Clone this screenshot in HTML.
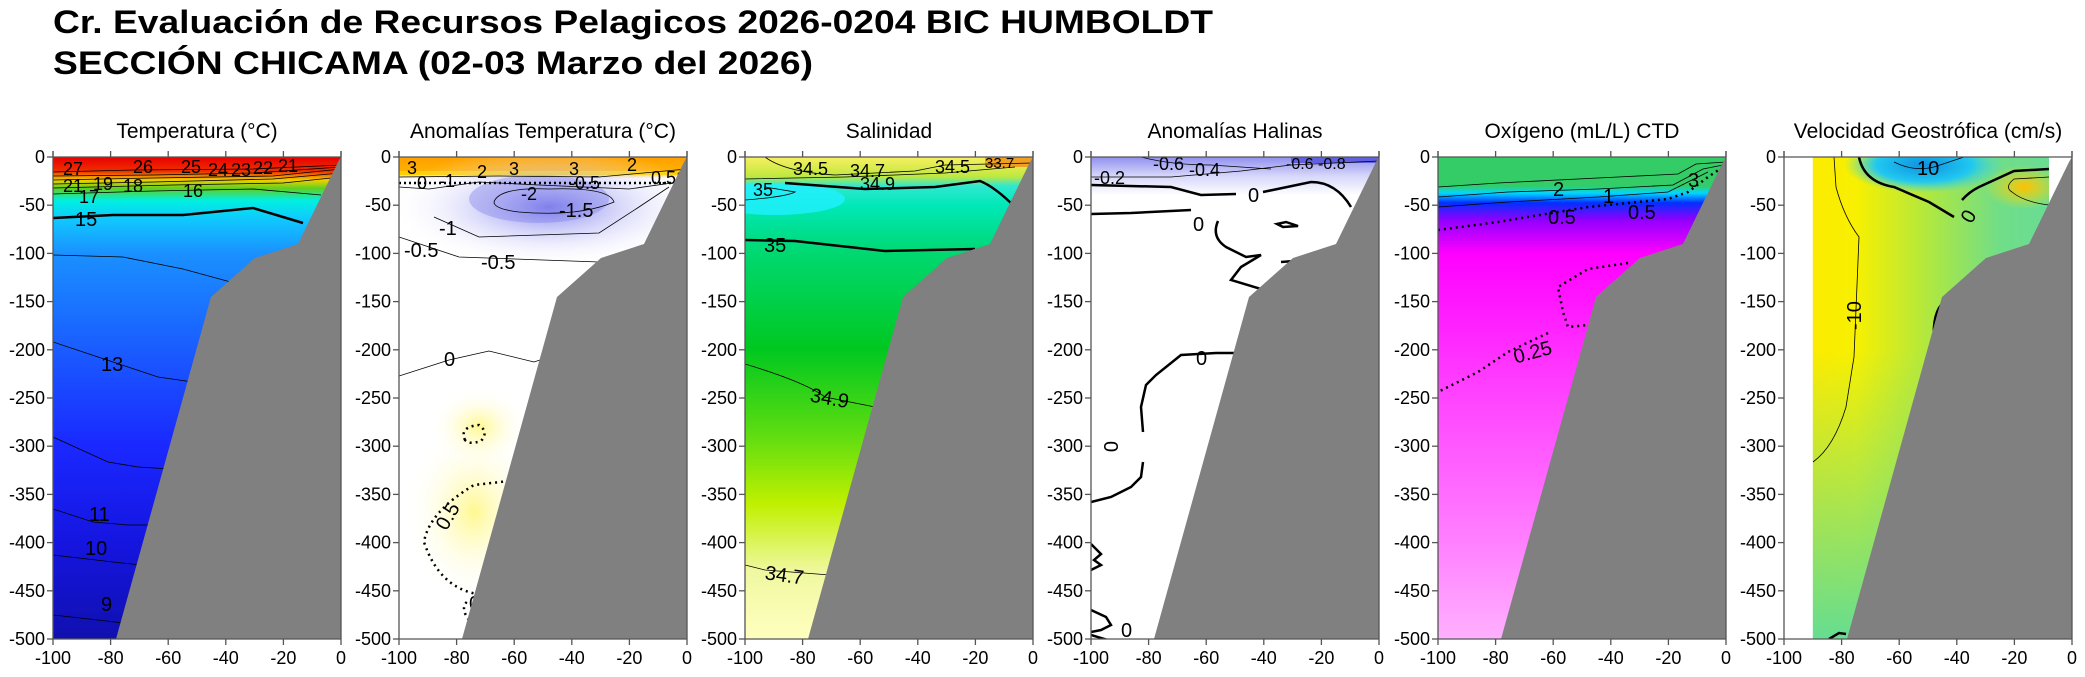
<!DOCTYPE html>
<html><head><meta charset="utf-8">
<style>
html,body{margin:0;padding:0;background:#fff;}
svg{display:block;}
text{font-family:"Liberation Sans",sans-serif;}
</style></head>
<body>
<svg id="s" width="2085" height="677" viewBox="0 0 2085 677" xmlns="http://www.w3.org/2000/svg">
<defs>
<linearGradient id="gT" x1="0" y1="0" x2="0" y2="1">
<stop offset="0" stop-color="#e80000"/><stop offset="0.03" stop-color="#f03000"/><stop offset="0.048" stop-color="#f0d000"/><stop offset="0.065" stop-color="#60d020"/><stop offset="0.09" stop-color="#00f0e0"/><stop offset="0.13" stop-color="#10c8ff"/><stop offset="0.2" stop-color="#1a90ff"/><stop offset="0.4" stop-color="#1a5cff"/><stop offset="0.6" stop-color="#1a28ff"/><stop offset="0.8" stop-color="#1515e0"/><stop offset="1" stop-color="#1010b0"/>
</linearGradient>
<linearGradient id="gS" x1="0" y1="0" x2="0" y2="1">
<stop offset="0" stop-color="#f8f060"/><stop offset="0.04" stop-color="#c0e840"/><stop offset="0.06" stop-color="#30e8d0"/><stop offset="0.1" stop-color="#00e8b8"/><stop offset="0.2" stop-color="#00d870"/><stop offset="0.4" stop-color="#00c820"/><stop offset="0.58" stop-color="#60dd10"/><stop offset="0.72" stop-color="#c0f000"/><stop offset="0.86" stop-color="#f0f8a0"/><stop offset="1" stop-color="#ffffc0"/>
</linearGradient>
<linearGradient id="gO" x1="0" y1="0" x2="0" y2="1">
<stop offset="0" stop-color="#33cc66"/><stop offset="0.06" stop-color="#33cc66"/><stop offset="0.075" stop-color="#00d8ff"/><stop offset="0.095" stop-color="#0030ff"/><stop offset="0.13" stop-color="#9000ff"/><stop offset="0.2" stop-color="#ff00ff"/><stop offset="0.5" stop-color="#ff44ff"/><stop offset="0.8" stop-color="#ff80ff"/><stop offset="1" stop-color="#ffb0ff"/>
</linearGradient>
<linearGradient id="gV" x1="0" y1="0" x2="1" y2="0">
<stop offset="0" stop-color="#ffe800"/><stop offset="0.25" stop-color="#f8f000"/><stop offset="0.5" stop-color="#b0e840"/><stop offset="0.75" stop-color="#70dd88"/><stop offset="1" stop-color="#66dd99"/>
</linearGradient>
<linearGradient id="gV2" x1="0" y1="0" x2="0" y2="1">
<stop offset="0.4" stop-color="#66dd90" stop-opacity="0"/><stop offset="1" stop-color="#66dd90" stop-opacity="1"/>
</linearGradient>
<linearGradient id="gA" x1="0" y1="0" x2="0" y2="1">
<stop offset="0" stop-color="#ffa000"/><stop offset="0.03" stop-color="#ffb000"/><stop offset="0.045" stop-color="#ffffff"/><stop offset="1" stop-color="#ffffff"/>
</linearGradient>
<radialGradient id="rBlue" cx="0.5" cy="0.5" r="0.5"><stop offset="0" stop-color="#8080f0"/><stop offset="1" stop-color="#ffffff" stop-opacity="0"/></radialGradient>
<radialGradient id="rYel" cx="0.5" cy="0.5" r="0.5"><stop offset="0" stop-color="#fff890"/><stop offset="1" stop-color="#ffffff" stop-opacity="0"/></radialGradient>
<radialGradient id="rCy" cx="0.5" cy="0.5" r="0.5"><stop offset="0" stop-color="#1090e0"/><stop offset="0.6" stop-color="#20c8f0"/><stop offset="1" stop-color="#40d8e0" stop-opacity="0"/></radialGradient>
<radialGradient id="rOr" cx="0.5" cy="0.5" r="0.5"><stop offset="0" stop-color="#ffc000"/><stop offset="1" stop-color="#ffe000" stop-opacity="0"/></radialGradient>
<linearGradient id="gH" x1="0" y1="0" x2="0" y2="1">
<stop offset="0" stop-color="#9090f0"/><stop offset="0.04" stop-color="#d8d8fa"/><stop offset="0.08" stop-color="#ffffff"/>
</linearGradient>
<clipPath id="cp"><rect x="0" y="0" width="288" height="482"/></clipPath>
</defs>

<text x="53" y="33" font-size="32" font-weight="bold" textLength="1160" lengthAdjust="spacingAndGlyphs">Cr. Evaluación de Recursos Pelagicos 2026-0204 BIC HUMBOLDT</text>
<text x="53" y="74" font-size="32" font-weight="bold" textLength="760" lengthAdjust="spacingAndGlyphs">SECCIÓN CHICAMA (02-03 Marzo del 2026)</text>

<g font-size="21" text-anchor="middle">
<text x="197" y="138">Temperatura (°C)</text>
<text x="543" y="138">Anomalías Temperatura (°C)</text>
<text x="889" y="138">Salinidad</text>
<text x="1235" y="138">Anomalías Halinas</text>
<text x="1582" y="138">Oxígeno (mL/L) CTD</text>
<text x="1928" y="138">Velocidad Geostrófica (cm/s)</text>
</g>

<!-- Panel 1 -->
<g transform="translate(53,157)" clip-path="url(#cp)">
<rect width="288" height="482" fill="url(#gT)"/>
<g fill="none" stroke="#000" stroke-width="0.8">
<path d="M0,15 L80,13 L200,12 L288,8"/><path d="M0,19 L100,18 L200,16 L288,10"/><path d="M0,23 L100,21 L220,19 L288,12"/><path d="M0,27 L100,25 L220,22 L288,16"/><path d="M0,31 L120,28 L230,26 L288,20"/><path d="M0,37 L100,34 L200,32 L268,38"/>
<path d="M0,98 L70,100 L130,112 L185,127"/><path d="M0,185 L60,205 L105,220 L140,225"/><path d="M0,280 L55,305 L85,310 L118,312"/><path d="M0,352 L40,365 L75,368 L100,368"/><path d="M0,398 L60,405 L88,408"/><path d="M0,458 L45,463 L70,466"/>
</g>
<path d="M0,61 L60,58 L130,58 L200,51 L250,66" fill="none" stroke="#000" stroke-width="2.5"/>
<g font-size="20">
<text x="48" y="214">13</text>
<text x="22" y="69">15</text>
<text x="36" y="364">11</text><text x="32" y="398">10</text><text x="48" y="454">9</text>
<g font-size="18"><text x="10" y="18">27</text><text x="80" y="16">26</text><text x="128" y="16">25</text><text x="155" y="19">24</text><text x="178" y="19">23</text><text x="200" y="17">22</text><text x="225" y="15">21</text>
<text x="10" y="35">21</text><text x="40" y="33">19</text><text x="70" y="35">18</text><text x="130" y="40">16</text><text x="26" y="46">17</text></g>
</g>
<path d="M63,482 L158,140 L202,101 L245,87 L285,5 L288,0 L288,482Z" fill="#808080"/>
</g>

<!-- Panel 2 -->
<g transform="translate(399,157)" clip-path="url(#cp)">
<rect width="288" height="482" fill="url(#gA)"/>
<rect x="0" y="14" width="288" height="4" fill="#ffd000"/>
<ellipse cx="150" cy="50" rx="160" ry="60" fill="url(#rBlue)"/>
<ellipse cx="140" cy="42" rx="70" ry="24" fill="#8080e8" opacity="0.4"/>
<ellipse cx="75" cy="355" rx="70" ry="90" fill="url(#rYel)"/>
<ellipse cx="80" cy="270" rx="50" ry="40" fill="url(#rYel)"/>
<g fill="none" stroke="#000" stroke-width="0.8">
<path d="M0,20 L100,19 L200,20 L288,12"/><path d="M0,30 L30,32 L80,25 L140,28 L230,32 L280,25"/>
<path d="M95,45 Q100,30 150,32 Q210,30 215,45 Q180,60 120,55 Q95,52 95,45Z"/>
<path d="M35,60 L80,80 L200,76 L240,50 L270,30"/><path d="M0,80 L60,100 L200,105 L240,90"/>
<path d="M0,219 L50,203 L90,194 L135,205 L150,200"/>
</g>
<path d="M0,26 L288,26" stroke="#000" stroke-width="2.5" stroke-dasharray="2,3"/>
<g fill="none" stroke="#000" stroke-width="2.5" stroke-dasharray="2,4">
<path d="M66,283 Q60,270 80,268 Q90,275 82,284 Q70,288 66,283Z"/>
<path d="M110,324 L75,328 Q30,355 25,385 Q40,430 78,437"/>
<path d="M70,463 Q60,450 70,443"/>
</g>
<g font-size="20">
<g font-size="18"><text x="8" y="17">3</text><text x="110" y="18">3</text><text x="170" y="18">3</text><text x="228" y="14">2</text><text x="78" y="21">2</text>
<text x="18" y="32">0</text><text x="40" y="30">-1</text><text x="170" y="32">-0.5</text><text x="252" y="27">0.51</text>
<text x="122" y="43">-2</text></g><text x="160" y="60">-1.5</text><text x="40" y="78">-1</text><text x="5" y="100">-0.5</text><text x="82" y="112">-0.5</text>
<text x="45" y="209">0</text><text x="38" y="372" transform="rotate(-60 45 365)">0.5</text><text x="70" y="453">0</text>
</g>
<path d="M63,482 L158,140 L202,101 L245,87 L285,5 L288,0 L288,482Z" fill="#808080"/>
</g>

<!-- Panel 3 -->
<g transform="translate(745,157)" clip-path="url(#cp)">
<rect width="288" height="482" fill="url(#gS)"/>
<ellipse cx="30" cy="42" rx="70" ry="16" fill="#20f0ff" opacity="0.8"/>
<rect x="240" y="0" width="48" height="10" fill="#f0a020"/>
<g fill="none" stroke="#000" stroke-width="0.8">
<path d="M20,0 Q40,15 90,18 L170,14 L200,8 L288,6"/><path d="M0,22 L100,20 L200,16 L270,10"/><path d="M0,43 Q40,40 50,35 L20,30"/>
<path d="M0,207 Q60,225 80,240 L130,250"/><path d="M0,408 L20,413 L85,418"/>
</g>
<g fill="none" stroke="#000" stroke-width="2.5">
<path d="M40,26 L120,32 L190,30 L235,24 Q250,30 270,50"/><path d="M0,83 L50,84 L140,94 L230,92"/>
</g>
<g font-size="20">
<g font-size="18"><text x="48" y="18">34.5</text><text x="105" y="20">34.7</text><text x="115" y="33">34.9</text><text x="190" y="16">34.5</text><text x="240" y="11" font-size="15">33.7</text>
<text x="8" y="39">35</text></g><text x="19" y="95">35</text>
<text x="65" y="248" transform="rotate(10 85 242)">34.9</text><text x="20" y="425" transform="rotate(8 40 418)">34.7</text>
</g>
<path d="M63,482 L158,140 L202,101 L245,87 L285,5 L288,0 L288,482Z" fill="#808080"/>
</g>

<!-- Panel 4 -->
<g transform="translate(1091,157)" clip-path="url(#cp)">
<rect width="288" height="482" fill="url(#gH)"/>
<rect x="200" y="0" width="88" height="6" fill="#6060e0"/>
<g fill="none" stroke="#000" stroke-width="0.8">
<path d="M50,0 Q80,8 120,8 L180,12"/><path d="M0,20 L80,20 L150,14 L200,8 L288,4"/>
</g>
<g fill="none" stroke="#000" stroke-width="2.5">
<path d="M0,28 L80,30 L110,38 L145,37 M172,35 L220,25 Q245,25 260,50"/>
<path d="M0,57 L40,56 L100,53 M127,64 Q120,80 135,90 L155,100 L170,98 L150,110 L140,123 L180,135"/>
<path d="M186,67 L195,65 L207,69 L192,70Z"/><path d="M190,105 L203,104"/>
<path d="M147,196 L125,196 L90,198 L65,218 L55,228 L50,250 L52,275 M52,305 L50,320 L40,330 L30,335 L20,340 L0,345"/>
<path d="M160,198 L170,196 L178,186 L185,180"/>
<path d="M0,387 L10,397 L3,403 L10,408 L0,413 M0,453 L15,460 L20,468 L10,473 L0,475 M0,478 L20,484"/>
</g>
<g font-size="20">
<g font-size="18"><text x="62" y="13">-0.6</text><text x="98" y="19">-0.4</text><text x="195" y="12" font-size="16">-0.6 -0.8</text><text x="3" y="27">-0.2</text></g>
<text x="157" y="45">0</text><text x="102" y="74">0</text><text x="105" y="208">0</text><text x="14" y="297" transform="rotate(90 20 290)">0</text><text x="30" y="480">0</text>
</g>
<path d="M63,482 L158,140 L202,101 L245,87 L285,5 L288,0 L288,482Z" fill="#808080"/>
</g>

<!-- Panel 5 -->
<g transform="translate(1438,157)" clip-path="url(#cp)">
<rect width="288" height="482" fill="url(#gO)"/>
<path d="M0,28 L70,25 L180,21 L235,18 L250,9 L288,5 L288,0 L0,0Z" fill="#33cc66"/>
<g fill="none" stroke="#000" stroke-width="0.8">
<path d="M0,30 L60,26 L180,20 L240,17 L258,7 L288,5"/><path d="M0,40 L70,35 L160,32 L235,28 L265,12 L285,8"/><path d="M0,50 L70,45 L160,40 L230,35 L270,15"/>
</g>
<g fill="none" stroke="#000" stroke-width="2.5" stroke-dasharray="2,4">
<path d="M0,73 L60,65 L150,50 L230,42 L250,35 L270,20 L285,10"/>
<path d="M190,106 L150,112 L120,130 L125,155 L130,170 L150,168 M110,176 L70,195 L40,215 L0,235"/>
</g>
<g font-size="20">
<text x="250" y="30">3</text><text x="115" y="39">2</text><text x="165" y="46">1</text><text x="110" y="67">0.5</text><text x="190" y="62">0.5</text><text x="75" y="203" transform="rotate(-15 90 195)">0.25</text>
</g>
<path d="M63,482 L158,140 L202,101 L245,87 L285,5 L288,0 L288,482Z" fill="#808080"/>
</g>

<!-- Panel 6 -->
<g transform="translate(1784,157)" clip-path="url(#cp)">
<rect width="288" height="482" fill="url(#gV)"/>
<rect width="288" height="482" fill="url(#gV2)"/>
<ellipse cx="140" cy="8" rx="80" ry="28" fill="url(#rCy)"/>
<ellipse cx="240" cy="30" rx="40" ry="22" fill="url(#rOr)"/>
<rect x="0" y="0" width="28.8" height="482" fill="#fff"/>
<rect x="265" y="0" width="23" height="70" fill="#fff"/>
<g fill="none" stroke="#000" stroke-width="0.8">
<path d="M50,0 L52,30 Q60,60 75,80 L70,200 L62,250 Q50,290 29,305"/>
<path d="M110,5 Q130,15 150,10 L180,0"/><path d="M265,20 L230,22 Q220,30 228,35 Q240,45 265,48"/>
</g>
<g fill="none" stroke="#000" stroke-width="2.5">
<path d="M75,0 Q80,25 110,30 L145,45 L170,60 M178,43 Q185,35 195,30 L230,14 L265,12"/>
<path d="M150,185 Q148,155 160,145 L175,130"/><path d="M45,482 L55,476 L62,477"/>
</g>
<g font-size="20">
<text x="133" y="18">10</text><text x="178" y="65" transform="rotate(-60 185 58)">0</text><text x="62" y="172" transform="rotate(-90 70 165)">-10</text>
</g>
<path d="M63,482 L158,140 L202,101 L245,87 L285,5 L288,0 L288,482Z" fill="#808080"/>
</g>

<g id="axes" stroke="#555" stroke-width="1.3" fill="none"></g>
<g id="labs" font-size="18" fill="#000"></g>
</svg>
<script>
(function(){
var lefts=[53,399,745,1091,1438,1784],T=157,H=482,W=288;
var ns="http://www.w3.org/2000/svg",ax=document.getElementById('axes'),lb=document.getElementById('labs');
function ln(x1,y1,x2,y2){var l=document.createElementNS(ns,'line');l.setAttribute('x1',x1);l.setAttribute('y1',y1);l.setAttribute('x2',x2);l.setAttribute('y2',y2);ax.appendChild(l);}
function tx(x,y,s,a){var t=document.createElementNS(ns,'text');t.setAttribute('x',x);t.setAttribute('y',y);t.setAttribute('text-anchor',a);t.textContent=s;lb.appendChild(t);}
lefts.forEach(function(L){
ln(L,T-6,L,T+H);ln(L+W,T-6,L+W,T+H);ln(L,T,L+W,T);ln(L,T+H,L+W,T+H);
for(var i=0;i<=5;i++){var x=L+i*W/5;ln(x,T-6,x,T);ln(x,T+H,x,T+H+6);tx(x,T+H+25,String(-100+20*i),'middle');}
for(var j=0;j<=10;j++){var y=T+j*H/10;ln(L-6,y,L,y);tx(L-8,y+6,j==0?'0':String(-50*j),'end');}
});
})();
</script>
</body></html>
